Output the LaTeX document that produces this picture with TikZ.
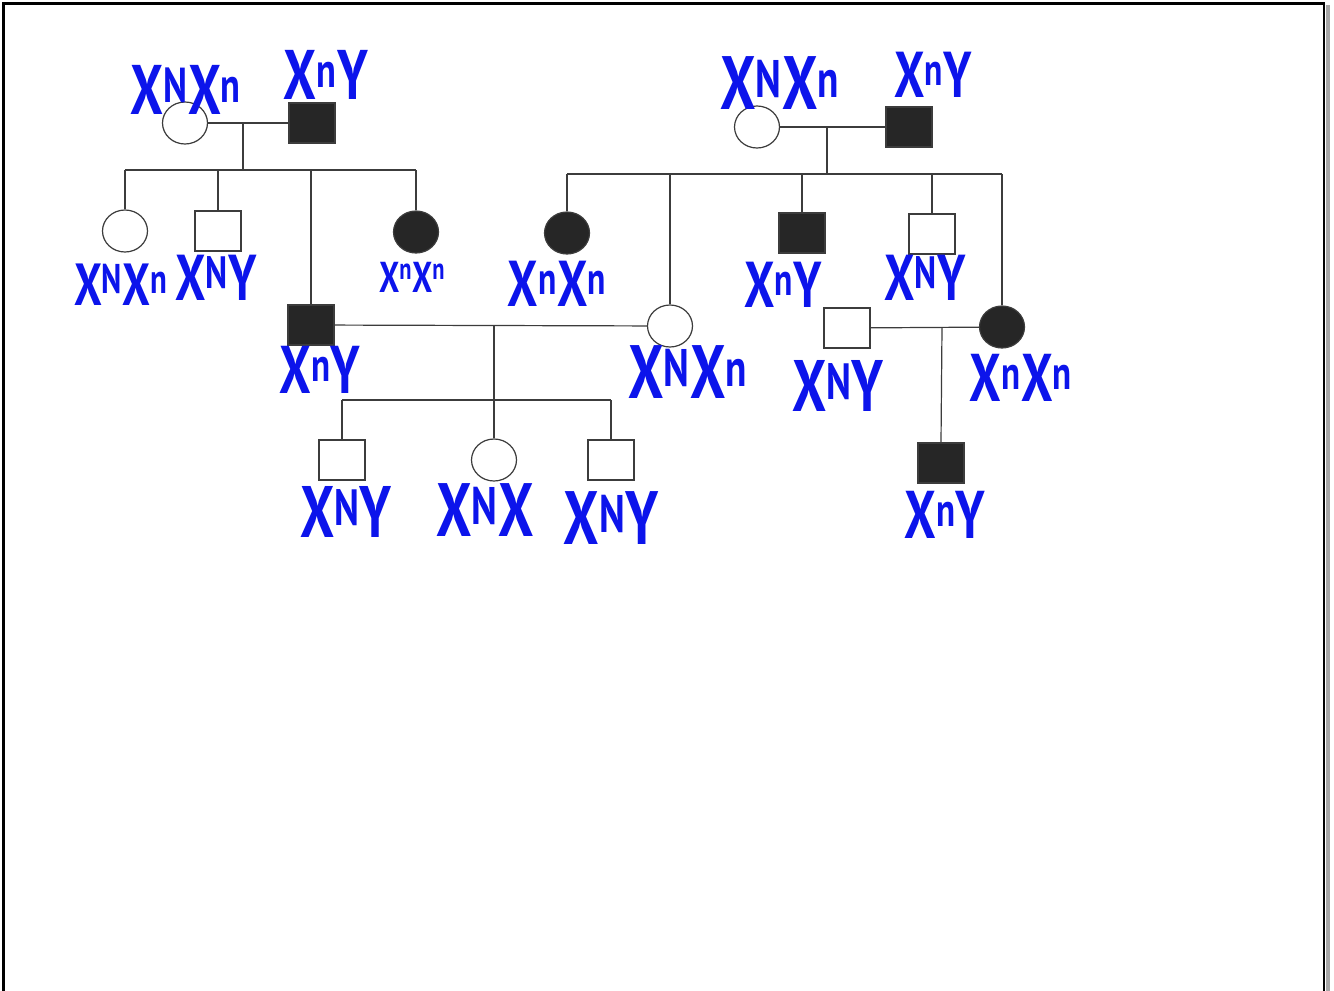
\documentclass[tikz,border=0pt]{standalone}
\usepackage{fontspec}
\setmainfont{PT Sans}
\usetikzlibrary{shapes.geometric}
\definecolor{ink}{RGB}{12,20,235}
\definecolor{pen}{RGB}{60,60,60}
\definecolor{affected}{RGB}{38,38,38}
% genotype label: font size, then text; stretched upright like pen writing
\newcommand{\geno}[2]{\scalebox{1}[1.35]{\fontsize{#1}{#1}\selectfont #2}}
\newcommand{\Nsup}{\textsuperscript{N}}
\newcommand{\nsup}{\textsuperscript{n}}

\begin{document}
\begin{tikzpicture}[x=1pt,y=-1pt,
  line/.style={pen, line width=1.2pt},
  male/.style={draw=pen, line width=1.2pt, rectangle, minimum width=46pt,
    minimum height=40pt, inner sep=0pt, fill=white},
  female/.style={draw=pen, line width=1.2pt, ellipse, minimum width=45pt,
    minimum height=42pt, inner sep=0pt, fill=white},
  aff/.style={fill=affected},
  lbl/.style={text=ink, inner sep=0pt, font=\bfseries}]
\useasboundingbox (0,0) rectangle (1334,991);
\fill[white] (0,0) rectangle (1334,991);

% page frame with shadow on the right
\fill[gray!70] (1325.5,5) rectangle (1329.5,991);
\draw[line width=2.2pt] (3.5,991) -- (3.5,3.5) -- (1324,3.5) -- (1324,991);

% ---- generation I ----
\node[female]     (a1) at (185,123) {};
\node[male,aff]   (a2) at (312,123) {};
\node[female]     (b1) at (757,127) {};
\node[male,aff]   (b2) at (909,127) {};

% ---- generation II ----
\node[female]     (a3) at (125,231) {};
\node[male]       (a4) at (218,231) {};
\node[male,aff]   (a5) at (311,325) {};
\node[female,aff] (a6) at (416,232) {};
\node[female,aff] (b3) at (567,233) {};
\node[female]     (b4) at (670,326) {};
\node[male,aff]   (b5) at (802,233) {};
\node[male]       (b6) at (932,234) {};
\node[female,aff] (b7) at (1002,327) {};
\node[male]       (b8) at (847,328) {};

% ---- generation III ----
\node[male]       (c1) at (342,460) {};
\node[female]     (c2) at (494,460) {};
\node[male]       (c3) at (611,460) {};
\node[male,aff]   (d1) at (941,463) {};

% ---- left family ----
\coordinate (ma) at (243,123);
\coordinate (sa) at (243,170);
\draw[line] (a1) -- (a2);
\draw[line] (ma) -- (sa);
\draw[line] (a3.north |- sa) -- (a6.north |- sa);
\foreach \k in {a3,a4,a5,a6} \draw[line] (\k.north |- sa) -- (\k.north);

% ---- right family ----
\coordinate (mb) at (827,127);
\coordinate (sb) at (827,174);
\draw[line] (b1) -- (b2);
\draw[line] (mb) -- (sb);
\draw[line] (b3.north |- sb) -- (b7.north |- sb);
\foreach \k in {b3,b4,b5,b6,b7} \draw[line] (\k.north |- sb) -- (\k.north);

% ---- couple a5 + b4 ----
\coordinate (mc) at (494,326);
\coordinate (sc) at (494,400);
\draw[line] (a5) -- (b4);
\draw[line] (mc) -- (sc);
\draw[line] (c1.north |- sc) -- (c3.north |- sc);
\foreach \k in {c1,c2,c3} \draw[line] (\k.north |- sc) -- (\k.north);

% ---- couple b8 + b7 ----
\coordinate (md) at (942,328);
\draw[line] (b8) -- (b7);
\draw[line] (md) -- (d1.north);

% ---- genotypes ----
\node[lbl] (la1) at (186,90)  {\geno{52}{X\Nsup X\nsup}};
\node[lbl] (la2) at (326,75)  {\geno{52}{X\nsup Y}};
\node[lbl] (lb1) at (780,83)  {\geno{56}{X\Nsup X\nsup}};
\node[lbl] (lb2) at (933,75)  {\geno{48}{X\nsup Y}};
\node[lbl] (la3) at (121,285) {\geno{44}{X\Nsup X\nsup}};
\node[lbl] (la4) at (216,278) {\geno{48}{X\Nsup Y}};
\node[lbl] (la6) at (412,277) {\geno{32}{X\nsup X\nsup}};
\node[lbl] (la5) at (320,370) {\geno{50}{X\nsup Y}};
\node[lbl] (lb3) at (557,284) {\geno{48}{X\nsup X\nsup}};
\node[lbl] (lb5) at (783,285) {\geno{48}{X\nsup Y}};
\node[lbl] (lb6) at (925,278) {\geno{48}{X\Nsup Y}};
\node[lbl] (lb4) at (688,372) {\geno{56}{X\Nsup X\nsup}};
\node[lbl] (lb8) at (838,386) {\geno{54}{X\Nsup Y}};
\node[lbl] (lb7) at (1021,378) {\geno{50}{X\nsup X\nsup}};
\node[lbl] (lc1) at (346,512) {\geno{54}{X\Nsup Y}};
\node[lbl] (lc2) at (485,510) {\geno{56}{X\Nsup X}};
\node[lbl] (lc3) at (611,518) {\geno{56}{X\Nsup Y}};
\node[lbl] (ld1) at (945,515) {\geno{50}{X\nsup Y}};
\end{tikzpicture}
\end{document}
